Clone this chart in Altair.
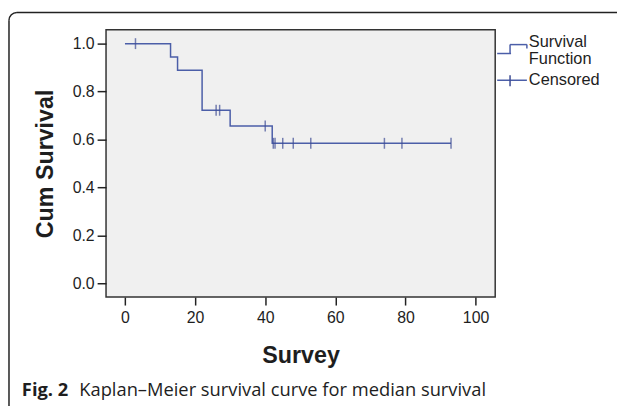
import altair as alt
import pandas as pd

# ---- data ----
step_time = [0, 13, 15, 22, 30, 42, 93]
step_surv = [1.0, 0.944, 0.889, 0.722, 0.656, 0.584, 0.584]
censor_time = [3, 26, 27, 40, 42.3, 42.8, 45, 48, 53, 74, 79, 93]
censor_surv = [1.0, 0.722, 0.722, 0.656, 0.584, 0.584, 0.584, 0.584, 0.584, 0.584, 0.584, 0.584]
x_ticks = [0, 20, 40, 60, 80, 100]
y_ticks = [0.0, 0.2, 0.4, 0.6, 0.8, 1.0]
legend_labels = ["Survival", "Function", "Censored"]
x_title = "Survey"
y_title = "Cum Survival"
caption_bold = "Fig. 2"
caption_rest = "Kaplan–Meier survival curve for median survival"

# ---- layout ----
W, H = 393, 270
PAD = {"left": 99, "top": 20, "right": 123, "bottom": 108}
LINE_C = "#4B5EA8"
MARK_C = "#3D4C94"
TXT_C = "#1e1e1e"
FRAME_C = "#222222"
AX_FONT = "Liberation Sans, Arial, sans-serif"
CAP_FONT = "Open Sans, sans-serif"

steps = pd.DataFrame({"t": step_time, "s": step_surv})
cens = pd.DataFrame({"t": censor_time, "s": censor_surv})
one = pd.DataFrame({"a": [0]})

x_scale = alt.Scale(domain=[-5.4, 105.6], nice=False, zero=False)
y_scale = alt.Scale(domain=[-0.058, 1.058], nice=False, zero=False)

x_axis = alt.Axis(values=x_ticks, domain=False, grid=False, tickSize=8, tickWidth=1.5,
                  tickColor=FRAME_C, labelFont=AX_FONT, labelFontSize=16, labelColor=TXT_C,
                  labelPadding=5, title=x_title, titleFont=AX_FONT, titleFontSize=23.5,
                  titleFontWeight="bold", titleColor=TXT_C, titleX=W / 2, titleY=59,
                  titleAlign="center", titleBaseline="middle")
y_axis = alt.Axis(values=y_ticks, format=".1f", domain=False, grid=False, tickSize=9,
                  tickWidth=1.5, tickColor=FRAME_C, labelFont=AX_FONT, labelFontSize=16,
                  labelColor=TXT_C, labelPadding=3, title=y_title, titleFont=AX_FONT,
                  titleFontSize=23.5, titleFontWeight="bold", titleColor=TXT_C, titleX=-61,
                  titleY=H / 2, titleAngle=270, titleAlign="center", titleBaseline="middle")

line = alt.Chart(steps).mark_line(interpolate="step-after", color=LINE_C, strokeWidth=1.5).encode(
    x=alt.X("t:Q", scale=x_scale, axis=x_axis),
    y=alt.Y("s:Q", scale=y_scale, axis=y_axis),
)
ticks = alt.Chart(cens).mark_tick(orient="vertical", size=11, thickness=1.5, color=MARK_C).encode(
    x=alt.X("t:Q", scale=x_scale),
    y=alt.Y("s:Q", scale=y_scale),
)

def rule(x, x2, y, y2, color=LINE_C, w=1.5):
    return alt.Chart(one).mark_rule(color=color, strokeWidth=w).encode(
        x=alt.value(x), x2=alt.value(x2), y=alt.value(y), y2=alt.value(y2))

# legend (manual, as in SPSS)
leg = [
    rule(395, 409, 24, 24), rule(408, 408, 15, 24), rule(408, 425, 15, 15), rule(425, 425, 15, 19),
    rule(395, 425, 51, 51), rule(408, 408, 46, 57, color=MARK_C),
]
def ltxt(s, y):
    return alt.Chart(one).mark_text(text=s, align="left", baseline="middle", font=AX_FONT,
                                    fontSize=16.5, color=TXT_C).encode(x=alt.value(427), y=alt.value(y))
leg_txt = [ltxt(legend_labels[0], 12), ltxt(legend_labels[1], 30), ltxt(legend_labels[2], 51)]

# outer frame (rounded top-left corner)
frame = [
    rule(-98, -98, -9.5, 400, color=FRAME_C),
    rule(-90, 530, -17.5, -17.5, color=FRAME_C),
    alt.Chart(one).mark_arc(radius=8.75, radius2=7.25, theta=4.712389, theta2=6.283185,
                            color=FRAME_C).encode(x=alt.value(-90), y=alt.value(-9.5)),
]

caption = [
    alt.Chart(one).mark_text(text=caption_bold, align="left", baseline="middle", font=CAP_FONT,
                             fontSize=18.5, fontWeight="bold", color=TXT_C).encode(
        x=alt.value(-85), y=alt.value(364)),
    alt.Chart(one).mark_text(text=caption_rest, align="left", baseline="middle", font=CAP_FONT,
                             fontSize=18.5, color=TXT_C).encode(x=alt.value(-27), y=alt.value(364)),
]

chart = alt.layer(line, ticks, *leg, *leg_txt, *frame, *caption).properties(
    width=W, height=H, autosize=alt.AutoSizeParams(type="none"), padding=PAD,
    background="white",
).configure_view(stroke="#333333", strokeWidth=1.5, fill="#F0F0F0")

chart.save("out.html", embed_options={"renderer": "svg", "actions": False})
